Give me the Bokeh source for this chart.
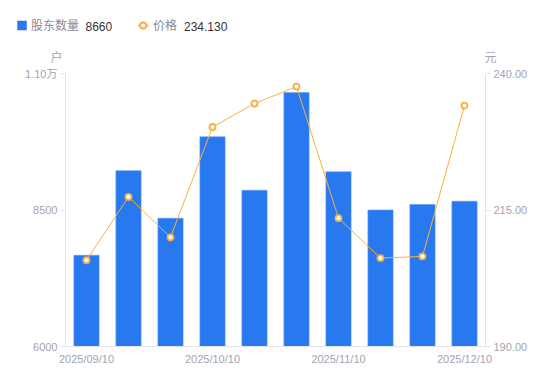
from bokeh.plotting import figure
from bokeh.layouts import column
from bokeh.models import (Range1d, LinearAxis, FixedTicker, ColumnDataSource, NumeralTickFormatter)
from bokeh.core.properties import value
from bokeh.embed import file_html
from bokeh.resources import INLINE

dates = ["2025/09/10", "2025/09/20", "2025/09/30", "2025/10/10", "2025/10/20",
         "2025/10/31", "2025/11/10", "2025/11/20", "2025/11/30", "2025/12/10"]
holders = [7670, 9220, 8350, 9840, 8860, 10650, 9200, 8500, 8600, 8660]
prices = [205.8, 217.4, 210.0, 230.2, 234.5, 237.6, 213.5, 206.2, 206.5, 234.13]
shown_ticks = [0, 3, 6, 9]
left_ticks = [6000, 8500, 11000]
left_labels = {11000: "1.10万"}
right_ticks = [190, 215, 240]
series_names = ["股东数量", "价格"]
units = ["户", "元"]

BLUE = "#2878f0"
ORANGE = "#f9b03b"
AXIS = "#e3e3e8"
TICKLBL = "#a3a3b0"
LEGTXT = "#8a8a94"
FONT = "Liberation Sans, Noto Sans CJK SC"
W = 548
TOP_H = 66
MAIN_H = 313

# ---------- header strip (legend + unit labels), page-pixel coordinates ----------
top = figure(width=W, height=TOP_H, output_backend="svg", toolbar_location=None,
             x_range=Range1d(0, W), y_range=Range1d(TOP_H, 0),
             min_border=0, min_border_left=0, min_border_right=0,
             min_border_top=0, min_border_bottom=0)
top.frame_align = False
top.axis.visible = False
top.grid.visible = False
top.outline_line_color = None

top.scatter(x=[21.5], y=[25], marker="square", size=9, fill_color=BLUE, line_color=BLUE, line_width=0.5)
top.segment(x0=[137.5], y0=[25], x1=[148], y1=[25], line_color=ORANGE, line_width=1.5)
top.scatter(x=[142.7], y=[25], size=6, fill_color="white", line_color=ORANGE, line_width=1.8)
top.text(x=[30.5, 152.5], y=[25.5, 25.5], text=series_names, text_color=LEGTXT,
         text_font=value(FONT), text_font_size="12px", text_baseline="middle", text_align="left")
top.text(x=[85, 183.5], y=[25.5, 25.5], text=[str(holders[-1]), "%.3f" % prices[-1]],
         text_color="#333333", text_font=value(FONT), text_font_size="12px",
         text_baseline="middle", text_align="left")
top.text(x=[56, 490], y=[57.5, 57.5], text=units, text_color=TICKLBL,
         text_font=value(FONT), text_font_size="12px", text_baseline="middle", text_align="center")

# ---------- main chart ----------
x = list(range(len(dates)))
src = ColumnDataSource(dict(x=x, holders=holders, prices=prices))

p = figure(width=W, height=MAIN_H, output_backend="svg", toolbar_location=None,
           x_range=Range1d(-0.5, len(dates) - 0.5),
           y_range=Range1d(left_ticks[0], left_ticks[-1]),
           min_border_left=65, min_border_right=63, min_border_top=7, min_border_bottom=33)
p.frame_align = False
p.outline_line_color = None
p.xgrid.visible = False
p.ygrid.visible = False
p.extra_y_ranges = {"price": Range1d(right_ticks[0], right_ticks[-1])}

p.vbar(x="x", top="holders", bottom=left_ticks[0], width=0.6, source=src,
       fill_color=BLUE, line_color="#5c9bf5", line_width=0.6)
p.line(x="x", y="prices", source=src, y_range_name="price", line_color=ORANGE, line_width=1)
p.scatter(x="x", y="prices", source=src, y_range_name="price", size=6,
          fill_color="white", line_color=ORANGE, line_width=1.8)

xa = p.xaxis[0]
xa.ticker = FixedTicker(ticks=shown_ticks)
xa.major_label_overrides = {i: dates[i] for i in shown_ticks}
xa.major_tick_line_color = None
xa.major_tick_out = 0
xa.major_tick_in = 0
xa.minor_tick_line_color = None
xa.axis_line_color = AXIS
xa.major_label_text_color = TICKLBL
xa.major_label_text_font = FONT
xa.major_label_text_font_size = "11px"
xa.major_label_standoff = 6

ya = p.yaxis[0]
ya.ticker = FixedTicker(ticks=left_ticks)
ya.major_label_overrides = left_labels
ya.axis_line_color = AXIS
ya.major_tick_line_color = AXIS
ya.major_tick_out = 5
ya.major_tick_in = 0
ya.minor_tick_line_color = None
ya.major_label_text_color = TICKLBL
ya.major_label_text_font = FONT
ya.major_label_text_font_size = "11px"
ya.major_label_standoff = 3

ra = LinearAxis(y_range_name="price", ticker=FixedTicker(ticks=right_ticks),
                formatter=NumeralTickFormatter(format="0.00"))
ra.axis_line_color = AXIS
ra.major_tick_line_color = AXIS
ra.major_tick_out = 5
ra.major_tick_in = 0
ra.minor_tick_line_color = None
ra.major_label_text_color = TICKLBL
ra.major_label_text_font = FONT
ra.major_label_text_font_size = "11px"
ra.major_label_standoff = 3
p.add_layout(ra, "right")

layout = column(top, p, spacing=0)
open("out.html", "w").write(file_html(layout, INLINE))
